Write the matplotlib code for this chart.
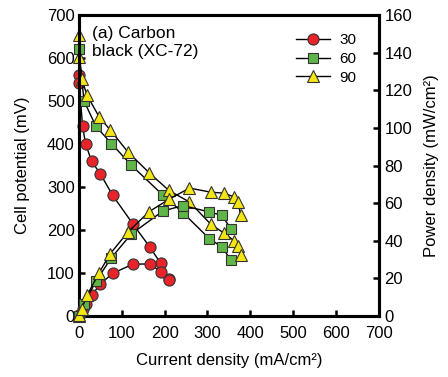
import matplotlib
matplotlib.use('Agg')
import matplotlib.pyplot as plt

plt.rcParams['font.family'] = ['Liberation Sans', 'DejaVu Sans']

# 30 (red circles)
i30 = [0, 1, 8.6, 15.6, 29.6, 49.8, 78.6, 126.7, 165.7, 191, 210]
v30 = [560, 541, 442, 401, 360, 331, 281, 213, 160, 122, 86]
p30 = [0, 0.5, 3.8, 6.3, 10.9, 16.8, 22.6, 27.6, 27.6, 23.5, 19.0]

# 60 (green squares)
i60 = [0, 12, 40, 76, 122, 196, 243, 304, 334, 354]
v60 = [622, 500, 441, 401, 351, 281, 240, 180, 160, 131]
p60 = [0, 6.5, 18.5, 31.0, 43.5, 55.8, 58.7, 55.3, 53.5, 46.4]

# 90 (yellow triangles)
i90 = [0, 1, 6.3, 19.4, 47.4, 73, 114, 164, 210, 258, 308, 338, 362, 372, 377]
v90 = [653, 602, 552, 513, 463, 433, 382, 333, 292, 265, 213, 193, 175, 163, 142]
p90 = [0, 0.6, 3.6, 11.0, 23.0, 33.0, 44.5, 55.5, 62.0, 68.0, 65.8, 65.3, 63.3, 60.6, 53.5]

series = [
    ('30', i30, v30, p30, 'o', '#e8242a', 8),
    ('60', i60, v60, p60, 's', '#5fb548', 7.5),
    ('90', i90, v90, p90, '^', '#f4e614', 9),
]

fig = plt.figure(figsize=(4.48, 3.77), dpi=100)
ax = fig.add_axes([0.176, 0.162, 0.670, 0.798])
ax2 = ax.twinx()

handles = []
for name, ii, vv, pp, mk, col, ms in series:
    h, = ax.plot(ii, vv, color='black', lw=1, marker=mk, ms=ms,
                 mfc=col, mec='#333333', mew=0.8, label=name, clip_on=False, zorder=3)
    ax2.plot(ii, pp, color='black', lw=1, marker=mk, ms=ms,
             mfc=col, mec='#333333', mew=0.8, clip_on=False, zorder=3)
    handles.append(h)

ax.set_xlim(0, 700)
ax.set_ylim(0, 700)
ax2.set_ylim(0, 160)
ax.set_xticks(range(0, 701, 100))
ax.set_yticks(range(0, 701, 100))
ax2.set_yticks(range(0, 161, 20))

for a in (ax, ax2):
    for s in a.spines.values():
        s.set_linewidth(2.2)
    a.tick_params(direction='in', length=4, width=1.8, labelsize=12)
ax.tick_params(axis='x', pad=7)
ax.tick_params(axis='y', pad=3)
ax2.tick_params(axis='y', pad=4)

ax.set_xlabel('Current density (mA/cm²)', fontsize=12, labelpad=9)
ax.set_ylabel('Cell potential (mV)', fontsize=12, labelpad=12)
ax2.set_ylabel('Power density (mW/cm²)', fontsize=12, labelpad=8)

ax.text(0.045, 0.965, '(a) Carbon\nblack (XC-72)', transform=ax.transAxes,
        fontsize=12.5, va='top', ha='left', linespacing=1.3)

ax2.legend(handles=handles, loc='upper right', bbox_to_anchor=(0.97, 0.985),
           frameon=False, fontsize=11, handlelength=2.2, labelspacing=0.3,
           handletextpad=0.6)

fig.savefig('out.png', dpi=100)
